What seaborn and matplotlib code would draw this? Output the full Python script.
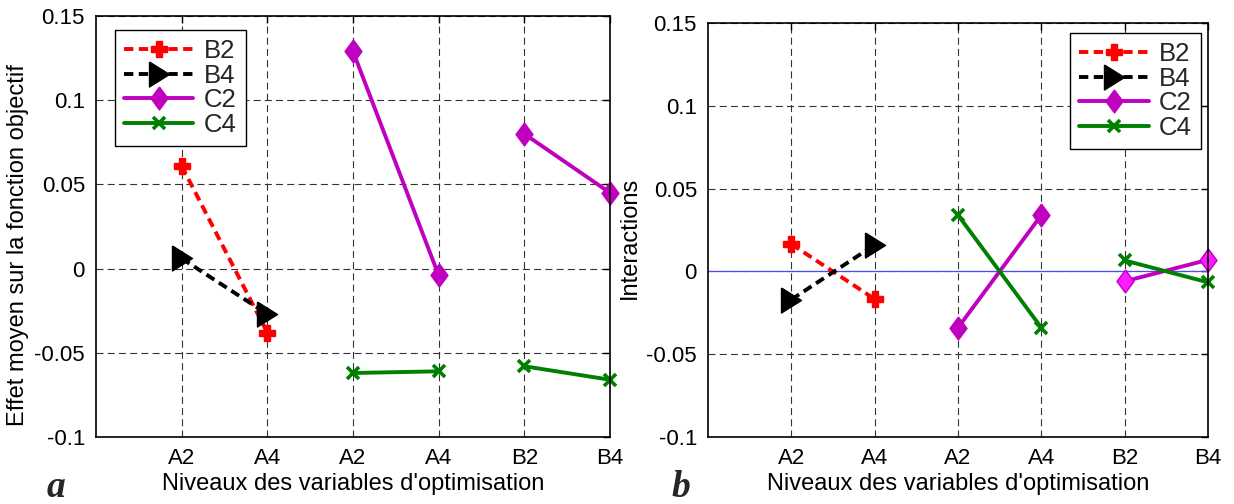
import numpy as np
import pandas as pd
import matplotlib
matplotlib.use("Agg")
import matplotlib.pyplot as plt
import seaborn as sns
from matplotlib.lines import Line2D

# ---------------- data ----------------
tick_labels = ["A2", "A4", "A2", "A4", "B2", "B4"]
y_ticks = [-0.1, -0.05, 0, 0.05, 0.1, 0.15]
y_tick_labels = ["-0.1", "-0.05", "0", "0.05", "0.1", "0.15"]
series_names = ["B2", "B4", "C2", "C4"]

# panel a : mean effect on objective function
b2_a = [0.061, -0.038]                      # at A2, A4
b4_a = [0.006, -0.027]                      # at A2, A4
c2_a = [0.129, -0.004, 0.080, 0.045]        # at A2, A4, B2, B4
c4_a = [-0.062, -0.061, -0.058, -0.066]     # at A2, A4, B2, B4

# panel b : interactions
b2_b = [0.0165, -0.0167]
b4_b = [-0.017, 0.016]
c2_b = [-0.034, 0.034, -0.006, 0.007]
c4_b = [0.034, -0.034, 0.0066, -0.0066]

xlabel_text = "Niveaux des variables d'optimisation"
ylabel_a = "Effet moyen sur la fonction objectif"
ylabel_b = "Interactions"

# ---------------- style ----------------
sns.set_theme(style="white")
plt.rcParams["font.family"] = ["Liberation Sans", "DejaVu Sans"]
plt.rcParams["axes.unicode_minus"] = False

W, H = 1234, 504
fig = plt.figure(figsize=(W / 100, H / 100), dpi=100, facecolor="white")


def frac_axes(x0, y0, x1, y1):
    return fig.add_axes([x0 / W, 1 - y1 / H, (x1 - x0) / W, (y1 - y0) / H])


ax_a = frac_axes(96, 16, 610, 437)
ax_b = frac_axes(708, 23, 1208, 437)

tri_marker = [(-0.8, 1.0), (-0.8, -1.0), (0.8, 0.0), (-0.8, 1.0)]
dia_marker = [(0.0, 1.0), (0.74, 0.0), (0.0, -1.0), (-0.74, 0.0), (0.0, 1.0)]

RED = "#ff0000"
BLACK = "#000000"
MAG = "#bf00bf"
GREEN = "#008000"
LW = 2.8

styles = {
    "B2": dict(color=RED, linestyle=(0, (2.4, 1.4)), marker="P", markersize=11,
               markeredgewidth=1.0, markeredgecolor=RED, markerfacecolor=RED),
    "B4": dict(color=BLACK, linestyle=(0, (2.4, 1.4)), marker=tri_marker, markersize=18,
               markeredgewidth=1.0, markeredgecolor=BLACK, markerfacecolor=BLACK),
    "C2": dict(color=MAG, linestyle="-", marker=dia_marker, markersize=16.5,
               markeredgewidth=1.0, markeredgecolor=MAG, markerfacecolor=MAG),
    "C4": dict(color=GREEN, linestyle="-", marker="x", markersize=9,
               markeredgewidth=2.6, markeredgecolor=GREEN, markerfacecolor=GREEN),
}


def draw_segments(ax, name, xs, ys, face=None):
    # draw pairs of points as separate segments
    for i in range(0, len(xs), 2):
        kw = dict(styles[name])
        if face is not None and i >= 2:
            kw["markerfacecolor"] = face
        df = pd.DataFrame({"x": xs[i:i + 2], "y": ys[i:i + 2]})
        sns.lineplot(data=df, x="x", y="y", ax=ax, estimator=None, sort=False,
                     linewidth=LW, legend=False, clip_on=False, zorder=3, **kw)


def setup_axes(ax, ylabel, ylab_x, ylab_y):
    ax.set_xlim(0, 6)
    ax.set_ylim(-0.1, 0.15)
    ax.set_xticks(range(1, 7), tick_labels)
    ax.set_yticks(y_ticks, y_tick_labels)
    ax.tick_params(direction="in", length=5, width=1, top=True, right=True,
                   labelsize=16, colors="black", pad=8)
    ax.tick_params(axis="x", pad=8)
    ax.grid(True, color="#333333", linewidth=0.8, linestyle=(0, (6.3, 3.8)))
    for s in ax.spines.values():
        s.set_visible(True)
        s.set_color("black")
        s.set_linewidth(1.2)
        s.set_zorder(4)
    ax.set_xlabel(xlabel_text, fontsize=17, color="black", labelpad=3)
    ax.set_ylabel(ylabel, fontsize=17, color="black")
    ax.yaxis.set_label_coords(ylab_x, ylab_y)
    ax.set_axisbelow(True)


# panel a
draw_segments(ax_a, "B2", [1, 2], b2_a)
draw_segments(ax_a, "B4", [1, 2], b4_a)
draw_segments(ax_a, "C2", [3, 4, 5, 6], c2_a)
draw_segments(ax_a, "C4", [3, 4, 5, 6], c4_a)
setup_axes(ax_a, ylabel_a, (29 - 96) / 514, (437 - 245) / 421)

# panel b
ax_b.axhline(0, color="#4a4aff", linewidth=0.9, zorder=1.5)
draw_segments(ax_b, "B2", [1, 2], b2_b)
draw_segments(ax_b, "B4", [1, 2], b4_b)
draw_segments(ax_b, "C2", [3, 4, 5, 6], c2_b, face="#ff1aff")
draw_segments(ax_b, "C4", [3, 4, 5, 6], c4_b)
setup_axes(ax_b, ylabel_b, (641 - 708) / 500, (437 - 238) / 414)


def make_handles():
    return [Line2D([], [], linewidth=LW, **styles[n]) for n in series_names]


for ax, anchor, loc in [
    (ax_a, ((115 - 96) / 514, (437 - 30) / 421), "upper left"),
    (ax_b, ((1201 - 708) / 500, (437 - 33) / 414), "upper right"),
]:
    leg = ax.legend(make_handles(), series_names, loc=loc, bbox_to_anchor=anchor,
                    borderaxespad=0, fontsize=18.5, handlelength=2.7, handletextpad=0.4,
                    borderpad=0.35, labelspacing=0.02, numpoints=1, frameon=True,
                    fancybox=False, edgecolor="black", framealpha=1)
    leg.get_frame().set_linewidth(1.0)
    leg.set_zorder(10)

# panel letters
fig.text(47 / W, 1 - 497 / H, "a", fontsize=27, fontweight="bold", fontstyle="italic",
         family=["Liberation Serif", "DejaVu Serif"], ha="left", va="baseline")
fig.text(671 / W, 1 - 497 / H, "b", fontsize=27, fontweight="bold", fontstyle="italic",
         family=["Liberation Serif", "DejaVu Serif"], ha="left", va="baseline")

fig.savefig("out.png", dpi=100, facecolor="white")
